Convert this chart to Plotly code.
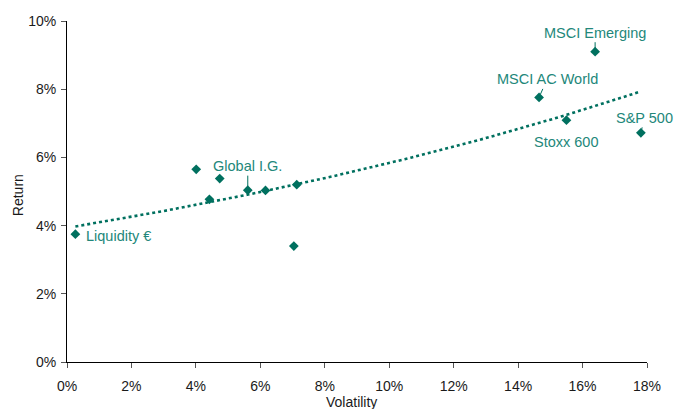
import numpy as np
import plotly.graph_objects as go

# Data (volatility %, return %)
names = ["Liquidity €", "", "", "", "Global I.G.", "", "", "",
         "MSCI AC World", "Stoxx 600", "MSCI Emerging", "S&P 500"]
volatility = [0.26, 4.01, 4.74, 4.42, 5.61, 6.16, 7.13, 7.04, 14.65, 15.50, 16.39, 17.81]
returns = [3.75, 5.65, 5.38, 4.77, 5.04, 5.03, 5.20, 3.40, 7.76, 7.09, 9.10, 6.72]
x_ticks = [0, 2, 4, 6, 8, 10, 12, 14, 16, 18]
y_ticks = [0, 2, 4, 6, 8, 10]

MARK = "#00705f"
LAB = "#23877a"
FONT = "Liberation Sans, Arial, sans-serif"

xv = np.array(volatility) / 100
yv = np.array(returns) / 100

# exponential trendline fitted to the data
b, lna = np.polyfit(xv, np.log(yv), 1)
tx = np.linspace(xv.min(), xv.max(), 80)
ty = np.exp(lna) * np.exp(b * tx)

fig = go.Figure()
fig.add_trace(go.Scatter(x=tx, y=ty, mode="lines",
                         line=dict(color=MARK, width=2.6, dash="dot"),
                         hoverinfo="skip", showlegend=False))
fig.add_trace(go.Scatter(x=xv, y=yv, mode="markers",
                         marker=dict(symbol="diamond", size=7.5, color=MARK),
                         showlegend=False, cliponaxis=False))

# label placement (pixel offsets)
label_cfg = {
    "Liquidity €": dict(showarrow=False, xanchor="left", xshift=9, yshift=-2),
    "Global I.G.": dict(showarrow=True, ax=0, ay=-24, standoff=4),
    "MSCI AC World": dict(showarrow=True, ax=8, ay=-18, standoff=3),
    "Stoxx 600": dict(showarrow=False, yshift=-22),
    "MSCI Emerging": dict(showarrow=True, ax=0, ay=-19, standoff=3),
    "S&P 500": dict(showarrow=True, ax=3.5, ay=-15, standoff=2),
}
for n, x, y in zip(names, xv, yv):
    if not n:
        continue
    cfg = label_cfg[n]
    kw = dict(x=x, y=y, xref="x", yref="y", text=n,
              font=dict(family=FONT, size=14.5, color=LAB))
    if cfg.get("showarrow"):
        kw.update(showarrow=True, arrowhead=0, arrowwidth=1, arrowcolor=MARK,
                  ax=cfg["ax"], ay=cfg["ay"], standoff=cfg["standoff"])
    else:
        kw.update(showarrow=False, xanchor=cfg.get("xanchor", "center"),
                  xshift=cfg.get("xshift", 0), yshift=cfg.get("yshift", 0))
    fig.add_annotation(**kw)

# axis titles
fig.add_annotation(x=0.49, y=-0.116, xref="paper", yref="paper", text="Volatility",
                   showarrow=False, font=dict(family=FONT, size=14, color="#1a1a1a"),
                   xanchor="center", yanchor="middle")
fig.add_annotation(x=-0.084, y=0.49, xref="paper", yref="paper", text="Return",
                   textangle=-90, showarrow=False,
                   font=dict(family=FONT, size=14, color="#1a1a1a"),
                   xanchor="center", yanchor="middle")

fig.update_xaxes(range=[0, 0.18], tickvals=[t / 100 for t in x_ticks],
                 ticktext=[f"{t}%" for t in x_ticks],
                 showgrid=False, zeroline=False, showline=True, linecolor="black", linewidth=1,
                 ticks="outside", ticklen=5, tickcolor="#555", tickwidth=1,
                 tickfont=dict(family=FONT, size=14, color="#1a1a1a"),
                 ticklabelstandoff=6)
fig.update_yaxes(range=[0, 0.10], tickvals=[t / 100 for t in y_ticks],
                 ticktext=[f"{t}%" for t in y_ticks],
                 showgrid=False, zeroline=False, showline=True, linecolor="black", linewidth=1,
                 ticks="outside", ticklen=5, tickcolor="#555", tickwidth=1,
                 tickfont=dict(family=FONT, size=14, color="#1a1a1a"),
                 ticklabelstandoff=2)

fig.update_layout(width=675, height=409,
                  margin=dict(l=67, r=28, t=21, b=47),
                  plot_bgcolor="white", paper_bgcolor="white",
                  showlegend=False, hovermode=False)

# remove the default page margin so the figure fills the window exactly
fig.write_html("out.html", config={"displayModeBar": False},
               post_script="document.body.style.margin='0';document.body.style.overflow='hidden';")
